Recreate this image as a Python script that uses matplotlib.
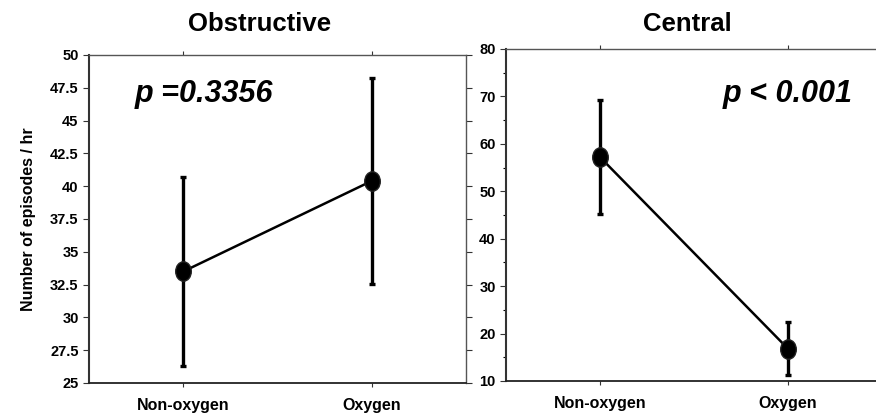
import matplotlib
matplotlib.use("Agg")
import matplotlib.pyplot as plt
import numpy as np
from matplotlib.path import Path
from matplotlib.transforms import Affine2D

plt.rcParams['font.family'] = ['Liberation Sans', 'DejaVu Sans']

categories = ["Non-oxygen", "Oxygen"]
obs_mean = [33.5, 40.4]
obs_err = [7.2, 7.85]
cen_mean = [57.2, 16.8]
cen_err = [12.0, 5.6]
obs_yticks = [25, 27.5, 30, 32.5, 35, 37.5, 40, 42.5, 45, 47.5, 50]
obs_yticklabels = ["25", "27.5", "30", "32.5", "35", "37.5", "40", "42.5", "45", "47.5", "50"]
cen_yticks = [10, 20, 30, 40, 50, 60, 70, 80]

fig = plt.figure(figsize=(8.76, 4.16), dpi=100)

ell = Path.unit_circle().transformed(Affine2D().scale(0.8, 1.0))

def style(ax):
    for s in ['left', 'top', 'right']:
        ax.spines[s].set_color('#555555')
        ax.spines[s].set_linewidth(1.0)
    ax.spines['left'].set_color('#333333')
    ax.spines['left'].set_linewidth(1.5)
    ax.spines['bottom'].set_color('#222222')
    ax.spines['bottom'].set_linewidth(1.3)
    ax.tick_params(axis='both', direction='out', length=4, width=0.8, color='#333333')
    ax.tick_params(axis='x', top=True, labeltop=False, length=3, pad=8)
    for lab in ax.get_yticklabels() + ax.get_xticklabels():
        lab.set_fontweight('bold')

def draw(ax, means, errs):
    x = np.arange(len(categories))
    ax.plot(x, means, color='black', lw=1.8, zorder=2)
    ax.errorbar(x, means, yerr=errs, fmt='none', ecolor='black', elinewidth=2.4,
                capsize=2.5, capthick=2.4, zorder=3)
    ax.plot(x, means, linestyle='none', marker=ell, markersize=14,
            markerfacecolor='black', markeredgecolor='#222222', zorder=4)
    ax.set_xlim(-0.5, 1.5)
    ax.set_xticks(x)
    ax.set_xticklabels(categories, fontsize=11.5, fontweight='bold')

# Left panel
ax1 = fig.add_axes([89/876, 1-383/416, 377/876, 328/416])
draw(ax1, obs_mean, obs_err)
ax1.set_ylim(25, 50)
ax1.set_yticks(obs_yticks)
ax1.set_yticklabels(obs_yticklabels, fontsize=10.5, fontweight='bold')
ax1.tick_params(axis='y', right=True, labelright=False)
style(ax1)
ax1.set_ylabel("Number of episodes / hr", fontsize=11.5, fontweight='bold', labelpad=10)
ax1.text(135/876, 1-94/416, "p =0.3356", transform=fig.transFigure, fontsize=22,
         fontweight='bold', fontstyle='italic', ha='left', va='center')

# Right panel
ax2 = fig.add_axes([506/876, 1-381/416, 376/876, 332/416])
draw(ax2, cen_mean, cen_err)
ax2.set_ylim(10, 80)
ax2.set_yticks(cen_yticks)
ax2.set_yticks(np.arange(15, 80, 10), minor=True)
ax2.set_yticklabels([str(v) for v in cen_yticks], fontsize=10.5, fontweight='bold')
ax2.tick_params(axis='y', which='minor', direction='out', length=2.5, width=0.8)
ax2.tick_params(axis='y', right=False)
style(ax2)
ax2.text(853/876, 1-94/416, "p < 0.001", transform=fig.transFigure, fontsize=22,
         fontweight='bold', fontstyle='italic', ha='right', va='center')

fig.text(260/876, 1-24/416, "Obstructive", fontsize=18.5, fontweight='bold', ha='center', va='center')
fig.text(687/876, 1-24/416, "Central", fontsize=18.5, fontweight='bold', ha='center', va='center')

fig.savefig("out.png", dpi=100)
